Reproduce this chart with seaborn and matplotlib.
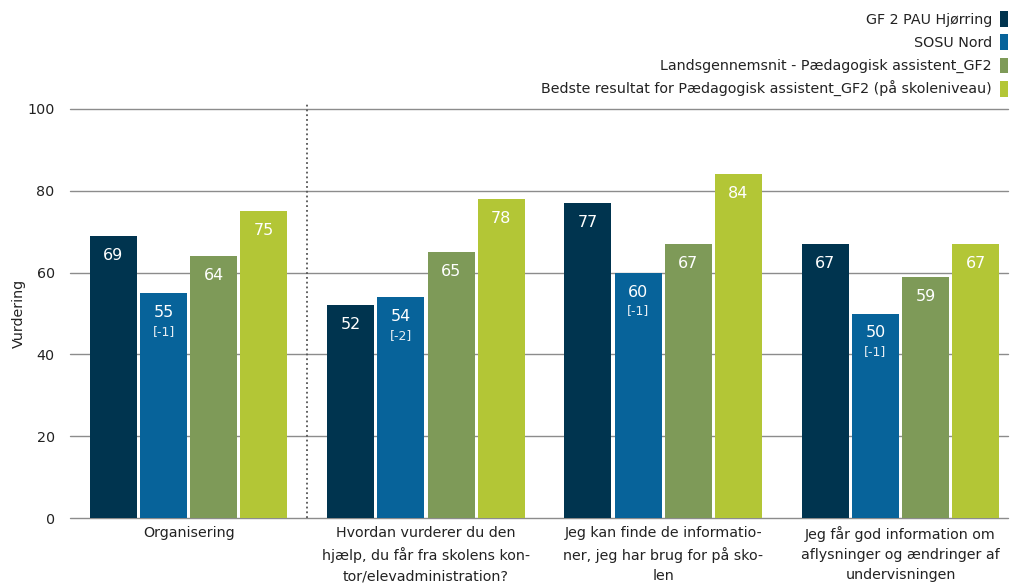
import numpy as np
import pandas as pd
import seaborn as sns
import matplotlib.pyplot as plt
from matplotlib.patches import Patch

# data
categories = ["Organisering",
              "Hvordan vurderer du den\nhjælp, du får fra skolens kon-\ntor/elevadministration?",
              "Jeg kan finde de informatio-\nner, jeg har brug for på sko-\nlen",
              "Jeg får god information om\naflysninger og ændringer af\nundervisningen"]
series = ["GF 2 PAU Hjørring",
          "SOSU Nord",
          "Landsgennemsnit - Pædagogisk assistent_GF2",
          "Bedste resultat for Pædagogisk assistent_GF2 (på skoleniveau)"]
hjoerring = [69, 52, 77, 67]
sosu = [55, 54, 60, 50]
lands = [64, 65, 67, 59]
bedste = [75, 78, 84, 67]
sosu_change = ["[-1]", "[-2]", "[-1]", "[-1]"]

colors = ["#00344f", "#07639a", "#7e9a58", "#b3c636"]

rows = []
for s, vals in zip(series, [hjoerring, sosu, lands, bedste]):
    for c, v in zip(categories, vals):
        rows.append({"cat": c, "serie": s, "value": v})
df = pd.DataFrame(rows)

sns.set_style("white")
plt.rcParams['font.family'] = ['DejaVu Sans']

fig = plt.figure(figsize=(10.1, 5.85), dpi=100)
ax = fig.add_axes([70 / 1010, 1 - 518 / 585, (1008 - 70) / 1010, (518 - 109) / 585])

sns.barplot(data=df, x="cat", y="value", hue="serie", order=categories,
            hue_order=series, palette=colors, width=0.846, gap=0.064,
            saturation=1, legend=False, linewidth=0, ax=ax, zorder=2)

ax.set_xlim(-0.5, 3.453)
ax.set_ylim(0, 100)
ax.set_yticks(range(0, 101, 20))
ax.yaxis.grid(True, color="#8c8c8c", linewidth=1, zorder=0)
for gl in ax.get_ygridlines():
    gl.set_clip_on(False)
ax.set_axisbelow(True)
for sp in ax.spines.values():
    sp.set_visible(False)
ax.tick_params(axis="both", length=0, labelsize=10.3, colors="#222222")
ax.tick_params(axis="x", pad=6)
ax.tick_params(axis="y", pad=11)
for lbl in ax.get_xticklabels():
    lbl.set_linespacing(1.55)
ax.set_xlabel("")
ax.set_ylabel("Vurdering", fontsize=10.3, color="#222222")
ax.yaxis.set_label_coords(-0.047, 0.5)

# separator after first group
ax.axvline(0.5, ymin=0, ymax=1.012, color="#555555", linestyle=":", linewidth=1.3,
           clip_on=False, zorder=3)

# value labels
for i, cont in enumerate(ax.containers):
    for j, bar in enumerate(cont):
        h = bar.get_height()
        xc = bar.get_x() + bar.get_width() / 2
        ax.annotate(f"{h:.0f}", (xc, h), xytext=(0, -14), textcoords="offset points",
                    ha="center", va="center", color="white", fontsize=11.5, zorder=4)
        if i == 1:
            ax.annotate(sosu_change[j], (xc, h), xytext=(0, -27.5), textcoords="offset points",
                        ha="center", va="center", color="#e8eef3", fontsize=9, zorder=4)

handles = [Patch(facecolor=c, edgecolor="none") for c in colors]
fig.legend(handles, series, loc="upper right", bbox_to_anchor=(1008 / 1010, 1 - 11 / 585),
           frameon=False, markerfirst=False, fontsize=10.3, handlelength=0.58,
           handleheight=1.33, handletextpad=0.55, labelspacing=0.52,
           borderpad=0, borderaxespad=0, labelcolor="#222222")

fig.savefig("out.png", dpi=100)
